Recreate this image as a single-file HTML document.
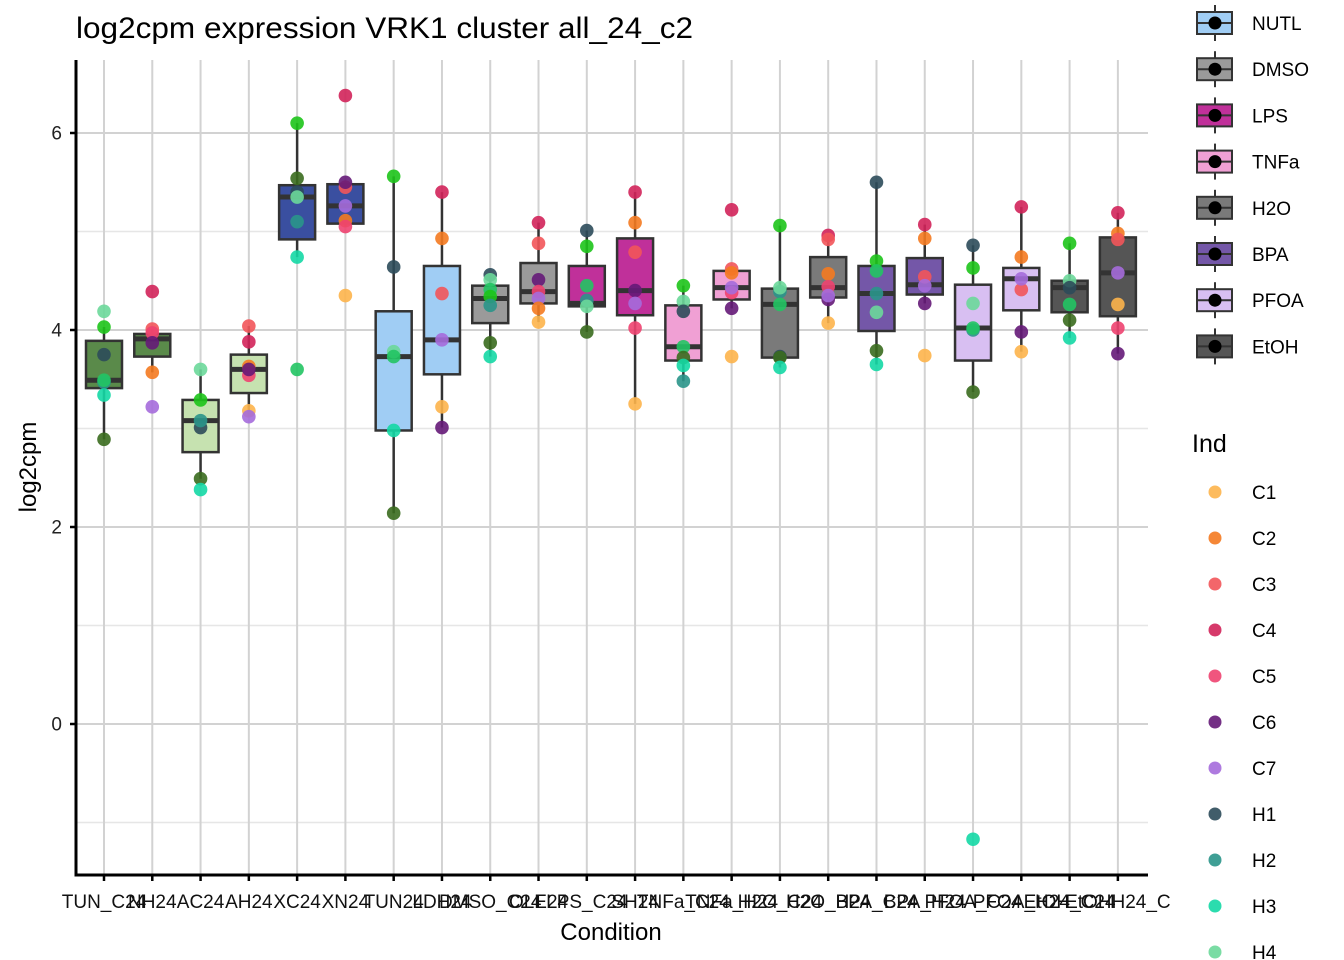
<!DOCTYPE html>
<html><head><meta charset="utf-8"><style>
html,body{margin:0;padding:0;background:#fff;}
svg{display:block;font-family:"Liberation Sans",Arial,sans-serif;}
</style></head><body>
<svg id="chart" width="1344" height="960" viewBox="0 0 1344 960">
<text x="76" y="38" font-size="30" textLength="617" lengthAdjust="spacingAndGlyphs" fill="#000">log2cpm expression VRK1 cluster all_24_c2</text>
<g id="grid"></g><g id="boxes"></g><g id="points"></g><g id="axes"></g>
<text x="611" y="940" font-size="24" text-anchor="middle">Condition</text>
<text transform="translate(36,467) rotate(-90)" font-size="24" text-anchor="middle">log2cpm</text>
<g id="legend"></g>
</svg>
<script>
const categories=["TUN_C24","NH24","AC24","AH24","XC24","XN24","TUN24","LDH24","DMSO_C24","OLE24","LPS_C24","SH24","TNFa_C24","TNFa_H24","H2O_C24","H2O_H24","BPA_C24","BPA_H24","PFOA_C24","PFOA_H24","EtOH_C24","EtOHH24_C"];
const boxFill=["#5a8a4a","#5a8a4a","#c6e2b0","#c6e2b0","#3a4fa0","#3a4fa0","#a0cdf4","#a0cdf4","#9a9a9a","#9a9a9a","#c0309a","#c0309a","#f0a0d4","#f0a0d4","#7a7a7a","#7a7a7a","#7457a8","#7457a8","#d8bff2","#d8bff2","#555555","#555555"];
const q1=[3.41,3.73,2.76,3.36,4.92,5.08,2.98,3.55,4.07,4.27,4.24,4.15,3.69,4.31,3.72,4.33,3.99,4.36,3.69,4.20,4.18,4.14];
const med=[3.49,3.91,3.08,3.60,5.35,5.26,3.73,3.90,4.32,4.39,4.27,4.40,3.83,4.43,4.26,4.43,4.37,4.46,4.02,4.52,4.43,4.58];
const q3=[3.89,3.96,3.29,3.75,5.47,5.48,4.19,4.65,4.45,4.68,4.65,4.93,4.25,4.60,4.42,4.74,4.65,4.73,4.46,4.63,4.50,4.94];
const whiskLo=[2.89,3.57,2.49,3.12,4.74,5.05,2.14,3.01,3.73,4.08,3.98,3.25,3.48,4.22,3.62,4.07,3.65,4.27,3.37,3.78,3.92,3.76];
const whiskHi=[4.03,4.01,3.60,4.04,6.10,5.50,5.56,5.40,4.56,5.09,5.01,5.40,4.45,4.60,5.06,4.96,5.50,5.07,4.86,5.25,4.88,5.19];
const indNames=["C1","C2","C3","C4","C5","C6","C7","H1","H2","H3","H4","H5","H6","H7"];
const indColors=["#fdb44b","#f47a20","#f2555a","#d2245a","#ee4370","#651a78","#a56cdb","#2c4b5a","#2a958a","#14d8a5","#6bd89a","#22c463","#1dc41a","#3a6b1e"];
// points: [category index, ind index, value]
const points=[
[0,10,4.19],[0,12,4.03],[0,7,3.75],[0,8,3.47],[0,11,3.49],[0,9,3.34],[0,13,2.89],
[1,3,4.39],[1,2,4.01],[1,4,3.97],[1,5,3.87],[1,1,3.57],[1,6,3.22],
[2,10,3.60],[2,12,3.29],[2,7,3.01],[2,8,3.08],[2,13,2.49],[2,9,2.38],
[3,2,4.04],[3,3,3.88],[3,1,3.63],[3,4,3.54],[3,5,3.60],[3,0,3.18],[3,6,3.12],
[4,12,6.10],[4,13,5.54],[4,7,5.40],[4,10,5.35],[4,8,5.10],[4,9,4.74],[4,11,3.60],
[5,3,6.38],[5,2,5.45],[5,5,5.50],[5,6,5.26],[5,1,5.11],[5,4,5.05],[5,0,4.35],
[6,12,5.56],[6,7,4.64],[6,10,3.78],[6,11,3.73],[6,9,2.98],[6,13,2.14],
[7,3,5.40],[7,1,4.93],[7,2,4.37],[7,6,3.90],[7,0,3.22],[7,5,3.01],
[8,7,4.56],[8,10,4.51],[8,11,4.41],[8,12,4.34],[8,8,4.25],[8,13,3.87],[8,9,3.73],
[9,3,5.09],[9,2,4.88],[9,5,4.51],[9,4,4.39],[9,6,4.32],[9,1,4.22],[9,0,4.08],
[10,7,5.01],[10,12,4.85],[10,11,4.45],[10,8,4.30],[10,10,4.24],[10,13,3.98],
[11,3,5.40],[11,1,5.09],[11,2,4.79],[11,5,4.40],[11,6,4.27],[11,4,4.02],[11,0,3.25],
[12,12,4.45],[12,10,4.29],[12,7,4.19],[12,11,3.83],[12,13,3.72],[12,9,3.64],[12,8,3.48],
[13,3,5.22],[13,2,4.62],[13,1,4.58],[13,4,4.38],[13,6,4.43],[13,5,4.22],[13,0,3.73],
[14,12,5.06],[14,8,4.39],[14,10,4.43],[14,11,4.26],[14,7,3.73],[14,13,3.72],[14,9,3.62],
[15,3,4.96],[15,2,4.92],[15,1,4.57],[15,4,4.44],[15,5,4.31],[15,6,4.35],[15,0,4.07],
[16,7,5.50],[16,12,4.70],[16,11,4.60],[16,8,4.37],[16,10,4.18],[16,13,3.79],[16,9,3.65],
[17,3,5.07],[17,1,4.93],[17,2,4.54],[17,6,4.45],[17,5,4.27],[17,0,3.74],
[18,7,4.86],[18,12,4.63],[18,10,4.27],[18,8,4.00],[18,11,4.02],[18,13,3.37],[18,9,-1.17],
[19,3,5.25],[19,1,4.74],[19,2,4.41],[19,6,4.52],[19,5,3.98],[19,0,3.78],
[20,12,4.88],[20,10,4.50],[20,7,4.43],[20,11,4.26],[20,13,4.10],[20,9,3.92],
[21,3,5.19],[21,1,4.98],[21,2,4.92],[21,6,4.58],[21,0,4.26],[21,4,4.02],[21,5,3.76]
];
const yTicks=[0,2,4,6];
const yMinor=[-1,1,3,5];
const treatNames=["NUTL","DMSO","LPS","TNFa","H2O","BPA","PFOA","EtOH"];
const treatColors=["#a0cdf4","#9a9a9a","#c0309a","#f0a0d4","#7a7a7a","#7457a8","#d8bff2","#555555"];

const NS="http://www.w3.org/2000/svg";
const L=76,R=1148,T=60,B=875;
const y=v=>724-v*98.5;
const x=i=>104+i*48.28;
function mk(tag,attrs,parent,text){const e=document.createElementNS(NS,tag);for(const k in attrs)e.setAttribute(k,attrs[k]);if(text!=null)e.textContent=text;parent.appendChild(e);return e;}
const grid=document.getElementById('grid'),boxes=document.getElementById('boxes'),pts=document.getElementById('points'),axes=document.getElementById('axes'),leg=document.getElementById('legend');
yMinor.forEach(v=>{const e=mk('line',{x1:L,x2:R,y1:y(v),y2:y(v),stroke:'#e6e6e6','stroke-width':1.5},grid);

});
yTicks.forEach(v=>{const e=mk('line',{x1:L,x2:R,y1:y(v),y2:y(v),stroke:'#d2d2d2','stroke-width':2},grid);

});
categories.forEach((c,i)=>{const e=mk('line',{x1:x(i),x2:x(i),y1:T,y2:B,stroke:'#d2d2d2','stroke-width':2},grid);

});
categories.forEach((c,i)=>{
 const g=mk('g',{},boxes);
 
 
 const cx=x(i),hw=18;
 mk('line',{x1:cx,x2:cx,y1:y(whiskHi[i]),y2:y(q3[i]),stroke:'#333','stroke-width':2.5},g);
 mk('line',{x1:cx,x2:cx,y1:y(q1[i]),y2:y(whiskLo[i]),stroke:'#333','stroke-width':2.5},g);
 mk('rect',{x:cx-hw,y:y(q3[i]),width:hw*2,height:y(q1[i])-y(q3[i]),fill:boxFill[i],stroke:'#333','stroke-width':2.5},g);
 mk('line',{x1:cx-hw,x2:cx+hw,y1:y(med[i]),y2:y(med[i]),stroke:'#333','stroke-width':5},g);
});
points.forEach(p=>{const e=mk('circle',{cx:x(p[0]),cy:y(p[2]),r:6.8,fill:indColors[p[1]],'fill-opacity':0.9},pts);

});
let e=mk('line',{x1:L,x2:L,y1:T,y2:B+1.5,stroke:'#000','stroke-width':3},axes);


e=mk('line',{x1:L-1.5,x2:R,y1:B,y2:B,stroke:'#000','stroke-width':3},axes);


yTicks.forEach(v=>{mk('line',{x1:L-6,x2:L,y1:y(v),y2:y(v),stroke:'#000','stroke-width':2.5},axes);
const t=mk('text',{x:L-14,y:y(v)+6.5,'font-size':19,'text-anchor':'end',fill:'#222'},axes,String(v));

});
categories.forEach((c,i)=>{mk('line',{x1:x(i),x2:x(i),y1:B,y2:B+6,stroke:'#000','stroke-width':2.5},axes);
const t=mk('text',{x:x(i),y:B+33,'font-size':19,'text-anchor':'middle',fill:'#111'},axes,c);

});
treatNames.forEach((n,i)=>{const cy=23+i*46.2;const g=mk('g',{},leg);


mk('line',{x1:1215,x2:1215,y1:cy-18,y2:cy+18,stroke:'#333','stroke-width':2},g);
mk('rect',{x:1197,y:cy-11,width:35,height:22,fill:treatColors[i],stroke:'#333','stroke-width':2},g);
mk('line',{x1:1197,x2:1232,y1:cy,y2:cy,stroke:'#333','stroke-width':2},g);
mk('circle',{cx:1215,cy:cy,r:6.5,fill:'#000'},g);
mk('text',{x:1252,y:cy+7,'font-size':19},g,n);});
e=mk('text',{x:1192,y:452,'font-size':25},leg,'Ind');


indNames.forEach((n,i)=>{const cy=492+i*46;if(cy>970)return;const g=mk('g',{},leg);


mk('circle',{cx:1215,cy:cy,r:6.5,fill:indColors[i],'fill-opacity':0.9},g);
mk('text',{x:1252,y:cy+7,'font-size':19},g,n);});
</script>
</body></html>
